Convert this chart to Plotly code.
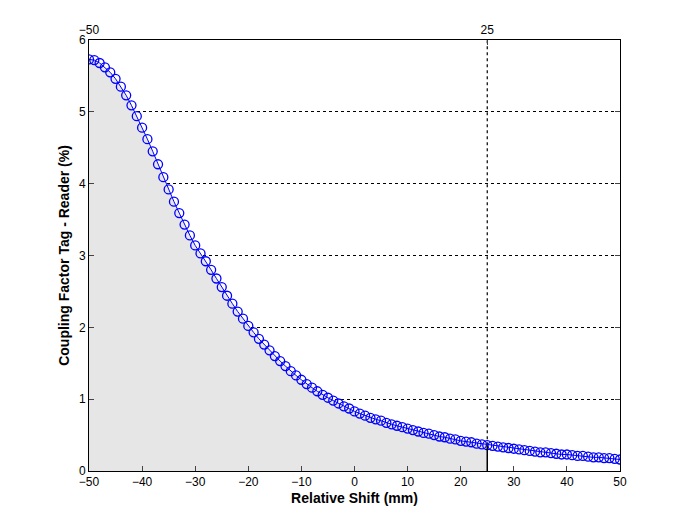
import plotly.graph_objects as go

x_mm = list(range(-50, 51))
coupling = [5.73,5.72,5.68,5.62,5.55,5.46,5.35,5.23,5.09,4.94,4.78,4.62,4.45,4.27,4.09,3.92,3.75,3.59,3.43,3.28,
            3.14,3.03,2.92,2.80,2.68,2.56,2.44,2.33,2.22,2.12,2.02,1.93,1.84,1.76,1.68,1.60,1.53,1.46,1.39,1.33,
            1.27,1.21,1.16,1.11,1.06,1.02,0.98,0.94,0.90,0.87,0.83,0.80,0.77,0.74,0.72,0.70,0.67,0.65,0.63,0.61,
            0.59,0.57,0.55,0.53,0.52,0.50,0.48,0.47,0.45,0.44,0.42,0.41,0.40,0.38,0.37,0.36,0.35,0.34,0.33,0.32,
            0.31,0.30,0.29,0.28,0.27,0.26,0.26,0.25,0.24,0.23,0.23,0.22,0.21,0.21,0.20,0.19,0.19,0.18,0.18,0.17,0.16]
marker_x = 25
x_ticks = list(range(-50, 51, 10))
y_ticks = list(range(0, 7))
top_ticks = [-50, 25]

fill_x = [v for v in x_mm if v <= marker_x]
fill_y = coupling[:len(fill_x)]
y_at_marker = coupling[x_mm.index(marker_x)]

fig = go.Figure()
fig.add_trace(go.Scatter(x=fill_x, y=fill_y, fill='tozeroy', fillcolor='#e6e6e6',
                         mode='lines', line=dict(width=0), hoverinfo='skip', showlegend=False))
fig.add_trace(go.Scatter(x=x_mm, y=coupling, mode='lines+markers',
                         line=dict(color='#0000ff', width=1),
                         marker=dict(symbol='circle-open', size=9, color='#0000ff', line=dict(width=1.3)),
                         showlegend=False))
fig.add_trace(go.Scatter(x=top_ticks, y=[None, None], xaxis='x2', showlegend=False))

fig.add_shape(type='line', x0=marker_x, x1=marker_x, y0=y_at_marker, y1=6,
              line=dict(color='black', width=1.2, dash='dot'), layer='below')
fig.add_shape(type='line', x0=marker_x, x1=marker_x, y0=0, y1=y_at_marker,
              line=dict(color='black', width=1.5), layer='above')

font = dict(family='Liberation Sans, Arial', size=12, color='black')
fig.update_layout(
    width=683, height=512, margin=dict(l=81, r=71, t=32, b=49, autoexpand=False),
    plot_bgcolor='white', paper_bgcolor='white', font=font,
    xaxis=dict(range=[-50, 50], tickvals=x_ticks, ticks='inside', ticklen=5,
               showline=True, linecolor='black', linewidth=1, showgrid=False, zeroline=False,
               title=dict(text='<b>Relative Shift (mm)</b>', standoff=4)),
    xaxis2=dict(range=[-50, 50], overlaying='x', side='top', tickvals=top_ticks, ticks='inside',
                ticklen=5, showline=True, linecolor='black', linewidth=1, showgrid=False, zeroline=False),
    yaxis=dict(range=[0, 6], tickvals=y_ticks, ticks='inside', ticklen=5, mirror='ticks',
               showline=True, linecolor='black', linewidth=1, zeroline=False,
               showgrid=True, gridcolor='black', griddash='dot', gridwidth=1.2,
               title=dict(text='<b>Coupling Factor Tag - Reader (%)</b>', standoff=6)),
)
fig.write_html('out.html')
